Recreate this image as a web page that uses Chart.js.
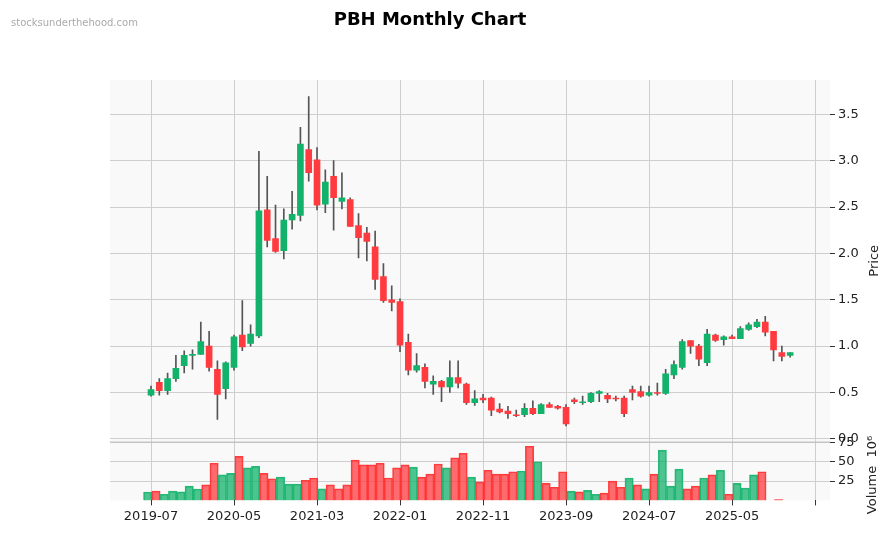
<!DOCTYPE html>
<html><head><meta charset="utf-8">
<script src="https://cdn.jsdelivr.net/npm/chart.js@4.4.0/dist/chart.umd.min.js"></script>
<style>
body{margin:0;background:#fff;font-family:"DejaVu Sans",sans-serif;}
#wrap{position:relative;width:891px;height:533px;}
#title{position:absolute;top:8px;left:0;width:860px;text-align:center;font-weight:bold;font-size:18px;color:#000;}
#wm{position:absolute;top:17px;left:11px;font-size:10px;color:#aaa;}
</style></head><body>
<div id="wrap"><canvas id="c" width="891" height="533"></canvas>
<div id="title">PBH Monthly Chart</div><div id="wm">stocksunderthehood.com</div></div>
<script>
const startYear=2019, startMonth=7;
const opens =[0.47,0.61,0.52,0.65,0.79,0.90,0.91,1.00,0.75,0.54,0.77,1.12,1.03,1.11,2.47,2.16,2.03,2.36,2.41,3.12,3.01,2.53,2.83,2.56,2.58,2.30,2.22,
2.07,1.75,1.50,1.48,1.04,0.74,0.77,0.59,0.62,0.56,0.66,0.59,0.39,0.44,0.44,0.32,0.30,0.26,0.26,0.33,0.27,0.37,0.35,0.34,0.42,0.39,
0.40,0.49,0.47,0.44,0.44,0.53,0.51,0.47,0.50,0.49,0.69,0.77,1.06,1.00,0.82,1.12,1.07,1.10,1.08,1.18,1.21,1.26,1.16,0.93,0.90];
const closes=[0.53,0.52,0.65,0.76,0.90,0.91,1.05,0.77,0.48,0.82,1.10,0.99,1.13,2.46,2.14,2.02,2.36,2.42,3.18,2.87,2.52,2.77,2.60,2.60,2.29,2.17,2.13,
1.72,1.49,1.47,1.01,0.74,0.79,0.62,0.62,0.56,0.66,0.60,0.39,0.43,0.42,0.31,0.29,0.27,0.25,0.33,0.27,0.37,0.34,0.33,0.16,0.40,0.40,
0.49,0.51,0.43,0.43,0.27,0.50,0.46,0.50,0.49,0.70,0.80,1.05,1.00,0.86,1.13,1.06,1.10,1.08,1.19,1.23,1.26,1.15,0.96,0.89,0.93];
const highs =[0.57,0.65,0.71,0.90,0.95,0.96,1.26,1.16,0.84,0.83,1.12,1.49,1.23,3.10,2.83,2.52,2.48,2.67,3.36,3.69,3.14,2.90,3.00,2.87,2.60,2.43,2.28,
2.24,1.89,1.65,1.51,1.13,0.92,0.81,0.68,0.63,0.84,0.84,0.60,0.52,0.48,0.45,0.38,0.35,0.31,0.38,0.41,0.38,0.39,0.36,0.37,0.44,0.46,
0.50,0.52,0.49,0.46,0.46,0.57,0.57,0.57,0.60,0.75,0.84,1.07,1.06,1.02,1.18,1.13,1.11,1.12,1.21,1.25,1.29,1.32,1.16,1.00,0.93];
const lows  =[0.46,0.47,0.48,0.62,0.71,0.75,0.91,0.73,0.21,0.43,0.74,0.95,1.00,1.09,2.07,2.01,1.94,2.26,2.35,2.78,2.47,2.44,2.25,2.48,2.29,1.95,1.92,
1.61,1.47,1.38,0.94,0.69,0.72,0.55,0.48,0.40,0.50,0.55,0.37,0.36,0.39,0.25,0.28,0.22,0.24,0.24,0.26,0.27,0.34,0.32,0.14,0.38,0.37,
0.39,0.40,0.39,0.41,0.24,0.42,0.45,0.46,0.47,0.48,0.65,0.75,0.92,0.79,0.79,1.05,1.01,1.08,1.08,1.17,1.20,1.11,0.84,0.84,0.88];
const volumes=[10.8,12,8,12,11,18.5,14.7,20,48,33,35,57,42,44,35,28,30,21,21,26,29,15,20,15,20,52,46,46,48,29,42,46,43,30,34,47,42,55,61,30,24,39,34,34,37,38,70,50,22,17,37,12,11,13,8,9.5,25,17,29,20,15,34,65,18.5,40.5,15,18.5,29,33,39,8,22,16,33,37,0,1,0];
const volUp=[1,0,1,1,1,1,1,0,0,1,1,0,1,1,0,0,1,1,1,0,0,1,0,0,0,0,0,0,0,0,0,0,1,0,0,0,1,0,0,1,0,0,0,0,0,1,0,1,0,0,0,1,0,1,1,0,0,0,1,0,1,0,1,1,1,0,0,1,0,1,0,1,1,1,0,0,0,0];
const tickIdx=[0,10,20,30,40,50,60,70,80];

function lab(i){const m=startMonth-1+i;const y=startYear+Math.floor(m/12);const mm=m%12+1;return y+'-'+String(mm).padStart(2,'0');}
const G='#13b26b',R='#ff3b3f';
const bodies=opens.map((o,i)=>({x:i,y:[o,closes[i]]}));
const wicks=lows.map((l,i)=>({x:i,y:[l,highs[i]]}));
const vols=volumes.map((v,i)=>({x:i-0.4,y:v}));
const bg={id:'bg',beforeDraw(c){const a=c.chartArea,x=c.ctx;x.save();x.fillStyle='#f9f9f9';x.fillRect(a.left,a.top,a.right-a.left,a.bottom-a.top);x.restore();},
 afterDraw(c){const x=c.ctx,y=c.scales.y,v=c.scales.v;x.save();x.fillStyle='#222';x.font='13px "DejaVu Sans"';x.textAlign='center';x.textBaseline='middle';
  x.strokeStyle='#bbb';x.lineWidth=1;x.beginPath();x.moveTo(c.chartArea.left,y.bottom+0.5);x.lineTo(c.chartArea.right,y.bottom+0.5);x.stroke();
  x.translate(875,(y.top+y.bottom)/2);x.rotate(-Math.PI/2);x.fillText('Price',0,0);x.restore();
  x.save();x.fillStyle='#222';x.font='13px "DejaVu Sans"';x.textAlign='center';x.textBaseline='middle';
  x.translate(873,(v.top+v.bottom)/2+4);x.rotate(-Math.PI/2);x.fillText('Volume  10\u2076',0,0);x.restore();}};
Chart.defaults.font.family='"DejaVu Sans", sans-serif';
const fitW=s=>{s.width=38;};
new Chart(document.getElementById('c'),{
 type:'bar',
 data:{datasets:[
  {data:bodies,yAxisID:'y',backgroundColor:opens.map((o,i)=>closes[i]>=o?G:R),barThickness:6,grouped:false,order:1},
  {data:wicks,yAxisID:'y',backgroundColor:'#555',barThickness:1,grouped:false,order:2},
  {data:vols,yAxisID:'v',backgroundColor:volUp.map(u=>u?'rgba(19,178,107,0.75)':'rgba(255,59,63,0.75)'),borderColor:volUp.map(u=>u?'rgba(19,178,107,0.9)':'rgba(255,40,40,0.9)'),borderWidth:1,barThickness:8.3,grouped:false,order:3}
 ]},
 options:{responsive:false,animation:false,
  layout:{padding:{left:110,top:80,right:23,bottom:6}},
  plugins:{legend:{display:false},tooltip:{enabled:false}},
  scales:{
   x:{type:'linear',min:-4.94,max:81.8,offset:false,
     afterBuildTicks(s){s.ticks=tickIdx.map(v=>({value:v}));},
     ticks:{callback:(v)=>v<78?lab(v):'',color:'#222',font:{size:13},maxRotation:0,autoSkip:false},
     grid:{color:'#cfcfcf',tickColor:'#333',tickLength:5,offset:false},border:{display:false}},
   y:{position:'right',stack:'s',stackWeight:6.15,min:-0.03,max:3.87,afterFit:fitW,
     afterBuildTicks(s){s.ticks=[0,0.5,1,1.5,2,2.5,3,3.5].map(v=>({value:v}));},
     ticks:{callback:v=>v.toFixed(1),color:'#222',font:{size:13},autoSkip:false},
     grid:{color:'#cfcfcf',tickColor:'#333',tickLength:5},border:{display:false}},
   v:{position:'right',stack:'s',stackWeight:1,min:0,max:76,offset:false,afterFit:fitW,
     afterBuildTicks(s){s.ticks=[25,50,75].map(v=>({value:v}));},
     ticks:{color:'#222',font:{size:13},autoSkip:false},
     grid:{color:'#cfcfcf',tickColor:'#333',tickLength:5},border:{display:false}}
  }},
 plugins:[bg]
});
</script></body></html>
